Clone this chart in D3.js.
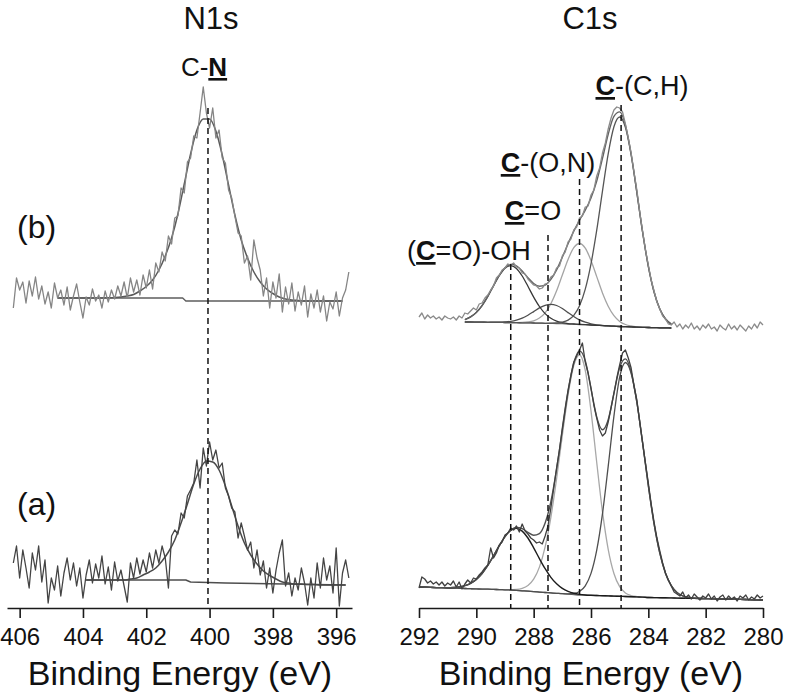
<!DOCTYPE html>
<html><head><meta charset="utf-8">
<script src="https://cdn.jsdelivr.net/npm/d3@7"></script>
<style>
html,body{margin:0;padding:0;background:#fff;}
svg{display:block;font-family:"Liberation Sans",Arial,Helvetica,sans-serif;}
</style></head><body>
<svg id="chart" width="787" height="693"></svg>
<script>
// ---------------- DATA ----------------
const panelTitles = ["N1s", "C1s"];
const xAxisLabel = "Binding Energy (eV)";
const sampleLabels = ["(b)", "(a)"];
const n1sTicks = [406, 404, 402, 400, 398, 396];
const c1sTicks = [292, 290, 288, 286, 284, 282, 280];

// N1s raw scans: start 406.2 eV, step 0.1 eV (intensity, a.u., stacked)
const n1sScanStart = 406.2, n1sScanStep = 0.1;
const n1sRawB = [300,330,318,326,305,327,312,331,309,322,304,316,300,325,310,318,303,321,298,312,
  324,306,290,311,303,319,307,313,300,317,306,318,309,322,312,326,310,330,316,328,
  313,333,320,338,319,345,336,356,347,372,364,390,392,420,415,446,450,472,470,495,
  521,495,480,500,470,478,450,445,418,410,392,375,372,345,352,328,368,350,338,312,
  330,300,326,310,334,296,321,304,325,297,316,303,322,291,314,300,318,296,312,287,
  306,299,316,292,310,318,336];
const n1sRawA = [45,62,30,58,40,20,55,38,62,26,48,5,30,18,42,12,35,50,28,45,
  22,40,10,33,48,25,44,30,52,24,41,18,46,27,38,22,6,45,30,50,
  34,48,36,55,40,58,45,62,50,20,72,78,74,95,90,112,118,125,148,120,
  160,142,166,148,158,140,145,120,112,100,96,70,85,72,58,66,40,58,33,47,
  20,40,15,38,55,68,22,35,12,30,18,40,25,3,30,10,45,20,50,28,
  42,15,60,2,35,48,30];
// N1s fits: step 0.2 eV
const n1sFitBStart = 404.8;
const n1sFitB = [310,310,310,310,310,310,310,310,310.2,310.5,311,312,313.5,317,321.5,328,338,352,370,394,
  424,454,478,489,489,477,453,423,393,368,350,336,326,319,314.5,311,309,308,307.5,307,
  307,307,307,307,307,307];
const n1sFitAStart = 403.9;
const n1sFitA = [28,28,28,28,28,28,28,29,30,33,36,40,47,56,68,85,104,124,139,147,
  146,138,122,102,82,65,53,44,37,32.5,29,26,25,24,24,23.5,23.5,23,23,23,23,23];
// N1s backgrounds [energy, intensity]
const n1sBgBEnergy = [404.8, 400.85, 400.75, 395.8];
const n1sBgB = [310, 310, 307, 307];
const n1sBgAEnergy = [403.9, 400.75, 400.6, 399.5, 395.7];
const n1sBgA = [28, 28, 26, 25, 23];
const n1sPeak = [400.05];
const n1sPeakTop = [500];

// C1s raw scans: start 292.0 eV, step 0.1 eV
const c1sScanStart = 292.0, c1sScanStep = 0.1;
const c1sRawB = [291,295,289,293,290,292,289,291,288,292,290,289,291,288,292,290,295,294,297,300,
  298,304,305,310,313,318,322,330,333,338,340,344,343,345,341,340,335,334,329,326,
  323,322,319,320,324,325,331,333,340,342,352,356,366,369,378,381,390,392,401,402,
  413,418,432,440,455,465,479,490,498,501,500,496,484,470,455,436,418,396,377,358,
  343,328,317,306,299,292,289,284,283,286,281,284,279,283,280,285,279,282,278,283,
  280,284,279,281,277,283,280,278,284,279,282,278,283,280,277,282,279,284,280,286,283];
const c1sRawA = [20,31,29,25,27,24,26,23,26,22,25,23,27,21,26,19,24,28,25,30,
  29,33,36,40,43,60,50,55,63,66,73,75,80,78,82,76,84,77,74,70,
  68,65,66,64,72,82,100,120,140,158,180,200,218,233,246,252,258,265,246,235,
  220,203,190,178,172,175,186,200,215,230,243,255,258,250,240,222,208,186,165,145,
  125,104,86,70,57,45,35,28,22,16,14,12,16,10,13,9,14,11,8,12,
  10,14,9,12,7,11,13,8,12,9,11,7,12,10,13,8,11,9,13,10,12];

// C1s (b) fit: grid 290.4 -> 283.2, step 0.2
const c1sFitBStart = 290.4;
const c1sBgB = [286,286,285.9,285.8,285.7,285.7,285.6,285.5,285.4,285.3,285.2,285.1,285,284.9,284.7,284.6,284.5,284.3,284,283.8,
  283.5,283.3,283,282.7,282.4,282.1,281.8,281.5,281.3,281.1,280.9,280.7,280.5,280.4,280.2,280.1,280];
const c1sOhB = [2.4,5.1,9.7,16.6,25.9,36.6,46.8,54.3,57,54.3,46.8,36.6,25.9,16.6,9.7,5.1,2.4,1.1,0.4,0.2,
  0.1,0,0,0,0,0,0,0,0,0,0,0,0,0,0,0,0];
const c1sCoB = [0,0,0,0,0,0.1,0.2,0.5,1.2,2.5,4.6,7.7,11.4,15.2,18,19,18,15.2,11.4,7.7,
  4.6,2.5,1.2,0.5,0.2,0.1,0,0,0,0,0,0,0,0,0,0,0];
const c1sConB = [0,0,0,0,0,0,0,0,0,0.1,0.3,0.9,2.2,5.1,10.5,19.7,32.7,48.7,64.6,76.5,
  81,76.5,64.6,48.7,32.7,19.7,10.5,5.1,2.2,0.9,0.3,0.1,0,0,0,0,0];
const c1sCchB = [0,0,0,0,0,0,0,0,0,0,0,0,0,0,0,0.2,0.5,1.5,3.9,8.9,
  18.7,35.6,61.2,95.1,134.5,172,199.4,209.5,199.4,172,134.5,95.1,61.2,35.6,18.7,8.9,3.9];
const c1sEnvB = [288.4,291.1,295.6,302.4,311.6,322.4,332.6,340.3,343.6,342.2,336.9,330.3,324.5,321.8,322.9,328.6,338.1,350.8,364.3,376.9,
  387.8,397.9,410,427,449.6,473.8,491.7,496.1,482.9,454,415.7,375.8,341.7,316,298.9,289,283.9];

// C1s (a) fit: grid 292.0 -> 280.0, step 0.2
const c1sFitAStart = 292.0;
const c1sBgA = [21,20.8,20.6,20.4,20.3,20.1,19.9,19.7,19.5,19.3,19.1,18.9,18.8,18.6,18.4,18.2,18,17.6,17.2,16.8,
  16.3,15.9,15.5,15.1,14.7,14.3,13.8,13.4,13,12.8,12.6,12.5,12.3,12.1,11.9,11.7,11.5,11.3,11.1,10.9,
  10.5,10.4,10.3,10.2,10.1,9.9,9.8,9.7,9.6,9.5,9.4,9.3,9.2,9,8.9,8.8,8.6,8.5,8.3,8.2,8];
const c1sOhA = [0,0,0,0,0.1,0.2,0.6,1.3,2.8,5.3,9.5,15.6,23.8,33.5,43.9,53.2,59.7,62,59.7,53.2,
  43.9,33.5,23.8,15.6,9.5,5.3,2.8,1.3,0.6,0.2,0.1,0,0,0,0,0,0,0,0,0,
  0,0,0,0,0,0,0,0,0,0,0,0,0,0,0,0,0,0,0,0,0];
const c1sConA = [0,0,0,0,0,0,0,0,0,0,0,0,0,0,0,0,0.3,0.9,2.4,5.7,
  12.5,25,45.6,75.6,114.7,158.4,199.4,229.2,240,224.8,184.6,133,84,46.6,22.6,9.6,3.6,1.2,0.3,0,
  0,0,0,0,0,0,0,0,0,0,0,0,0,0,0,0,0,0,0,0,0];
const c1sCchA = [0,0,0,0,0,0,0,0,0,0,0,0,0,0,0,0,0,0,0,0,
  0,0,0,0,0,0,0.3,1.1,3.5,9.4,22,45.4,81.9,129.6,180,219.1,234,223.5,194.5,154.4,
  111.9,73.7,44.5,24.3,12.2,5.6,2.3,0.9,0.3,0,0,0,0,0,0,0,0,0,0,0,0];
const c1sEnvA = [21,20.8,20.6,20.4,20.4,20.3,20.5,21,22.3,24.6,28.6,34.5,42.6,52.1,62.3,71.4,78,80.5,79.3,75.7,
  72.7,74.4,84.9,106.3,138.9,178,216.3,245,257.1,247.2,219.2,190.9,178.2,188.3,214.5,240.4,249.1,236,205.9,165.3,
  122.4,84.1,54.8,34.5,22.3,15.5,12.1,10.6,9.9,9.5,9.4,9.3,9.2,9,8.9,8.8,8.6,8.5,8.3,8.2,8];

// peak assignments
const c1sPeakNames = ["(C=O)-OH", "C=O", "C-(O,N)", "C-(C,H)"];
const c1sPeaks = [288.8, 287.5, 286.4, 284.95];
const c1sPeakTop = [344, 373, 429, 503];

// ---------------- DRAW ----------------
const svg = d3.select("#chart");
const FONT = '"Liberation Sans",Arial,Helvetica,sans-serif';
const y = d3.scaleLinear().domain([0, 600]).range([608, 8]);
const xN = d3.scaleLinear().domain([406.4, 395.5]).range([7, 352]);
const xC = d3.scaleLinear().domain([292, 280]).range([419, 763]);

const grid = (start, step, n) => d3.range(n).map(i => +(start - step * i).toFixed(2));

function drawLine(x, es, vs, color, width, smooth) {
  const line = d3.line().x(d => x(d[0])).y(d => y(d[1]));
  if (smooth) line.curve(d3.curveMonotoneX);
  svg.append("path")
    .datum(es.map((e, i) => [e, vs[i]]))
    .attr("fill", "none").attr("stroke", color).attr("stroke-width", width)
    .attr("stroke-linejoin", "round")
    .attr("d", line);
}

// N1s (b)
drawLine(xN, n1sBgBEnergy, n1sBgB, "#5e5e5e", 1.4, false);
drawLine(xN, grid(n1sFitBStart, 0.2, n1sFitB.length), n1sFitB, "#5a5a5a", 1.5, true);
drawLine(xN, grid(n1sScanStart, n1sScanStep, n1sRawB.length), n1sRawB, "#858585", 1.3, false);
// N1s (a)
drawLine(xN, n1sBgAEnergy, n1sBgA, "#4e4e4e", 1.4, false);
drawLine(xN, grid(n1sFitAStart, 0.2, n1sFitA.length), n1sFitA, "#4a4a4a", 1.5, true);
drawLine(xN, grid(n1sScanStart, n1sScanStep, n1sRawA.length), n1sRawA, "#444", 1.3, false);

// C1s (b)
const gB = grid(c1sFitBStart, 0.2, c1sBgB.length);
drawLine(xC, gB, c1sBgB, "#6a6a6a", 1.3, true);
drawLine(xC, gB, c1sConB.map((v, i) => v + c1sBgB[i]), "#a4a4a4", 1.3, true);
drawLine(xC, gB, c1sCoB.map((v, i) => v + c1sBgB[i]), "#4e4e4e", 1.3, true);
drawLine(xC, gB, c1sOhB.map((v, i) => v + c1sBgB[i]), "#383838", 1.3, true);
drawLine(xC, gB, c1sCchB.map((v, i) => v + c1sBgB[i]), "#555", 1.3, true);
drawLine(xC, gB, c1sEnvB, "#626262", 1.4, true);
drawLine(xC, grid(c1sScanStart, c1sScanStep, c1sRawB.length), c1sRawB, "#8a8a8a", 1.3, false);

// C1s (a)
const gA = grid(c1sFitAStart, 0.2, c1sBgA.length);
drawLine(xC, gA, c1sBgA, "#666", 1.3, true);
drawLine(xC, gA, c1sConA.map((v, i) => v + c1sBgA[i]), "#a8a8a8", 1.3, true);
drawLine(xC, gA, c1sCchA.map((v, i) => v + c1sBgA[i]), "#4e4e4e", 1.3, true);
drawLine(xC, gA, c1sOhA.map((v, i) => v + c1sBgA[i]), "#1c1c1c", 1.4, true);
drawLine(xC, gA, c1sEnvA, "#505050", 1.4, true);
drawLine(xC, grid(c1sScanStart, c1sScanStep, c1sRawA.length), c1sRawA, "#404040", 1.3, false);

// dashed assignment lines
function dashed(x, es, tops) {
  svg.append("g").selectAll("line").data(es).join("line")
    .attr("x1", d => x(d)).attr("x2", d => x(d))
    .attr("y1", (d, i) => y(tops[i])).attr("y2", y(0))
    .attr("stroke", "#111").attr("stroke-width", 1.5)
    .attr("stroke-dasharray", "6,4");
}
dashed(xN, n1sPeak, n1sPeakTop);
dashed(xC, c1sPeaks, c1sPeakTop);

// axes
function axis(x, ticks) {
  const g = svg.append("g").attr("transform", `translate(0,${y(0)})`)
    .call(d3.axisBottom(x).tickValues(ticks).tickSize(10).tickSizeOuter(0).tickPadding(10).tickFormat(d3.format("d")));
  g.attr("font-family", FONT).attr("font-size", 24);
  g.selectAll("path, line").attr("stroke", "#1a1a1a").attr("stroke-width", 1.6);
  g.selectAll("text").attr("fill", "#111");
}
axis(xN, n1sTicks);
axis(xC, c1sTicks);

// texts
function text(x, yb, parts, size, anchor) {
  const t = svg.append("text").attr("x", x).attr("y", yb)
    .attr("font-size", size).attr("text-anchor", anchor || "middle").attr("fill", "#111");
  parts.forEach(p => {
    const s = t.append("tspan").text(p.t);
    if (p.b) s.attr("font-weight", "bold").style("text-decoration", "underline");
  });
}
text(211, 29, [{t: panelTitles[0]}], 31);
text(590, 29, [{t: panelTitles[1]}], 31);
text(180, 685, [{t: xAxisLabel}], 34);
text(591, 685, [{t: xAxisLabel}], 34);
text(17, 238, [{t: sampleLabels[0]}], 32, "start");
text(17, 515, [{t: sampleLabels[1]}], 32, "start");

text(204, 76, [{t: "C-"}, {t: "N", b: true}], 26);
text(642, 95, [{t: "C", b: true}, {t: "-(C,H)"}], 27);
text(548, 172, [{t: "C", b: true}, {t: "-(O,N)"}], 27);
text(533, 220, [{t: "C", b: true}, {t: "=O"}], 27);
text(469, 260, [{t: "("}, {t: "C", b: true}, {t: "=O)-OH"}], 27);
</script>
</body></html>
